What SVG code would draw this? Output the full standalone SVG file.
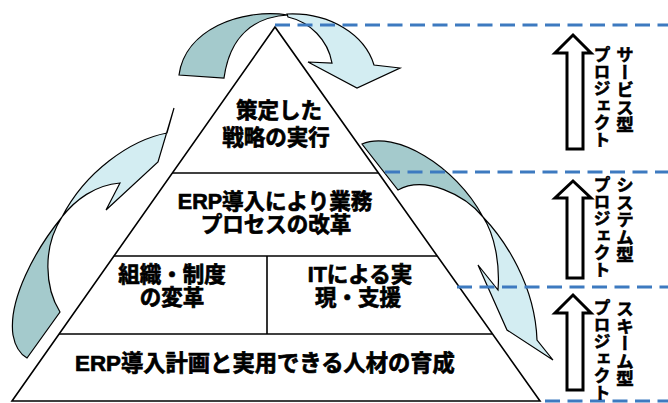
<svg xmlns="http://www.w3.org/2000/svg" width="668" height="403" viewBox="0 0 668 403">
<style>
.dark{fill:#a4cacc;stroke:#000;stroke-width:1.2;stroke-linejoin:miter}
.light{fill:#d3edf2;stroke:#000;stroke-width:1.2;stroke-linejoin:miter}
.tri{fill:#fff;stroke:#000;stroke-width:1.6}
.ln{stroke:#000;stroke-width:1.6;fill:none}
.dash{stroke:#3d7ac0;stroke-width:3.2;stroke-dasharray:15 7.5;fill:none}
.blk{fill:#fff;stroke:#000;stroke-width:3;stroke-linejoin:miter}
.t{font-family:"Liberation Sans","Noto Sans CJK JP",sans-serif;font-weight:bold;font-size:21.5px;fill:#000;stroke:#000;stroke-width:0.7;text-anchor:middle}
.v{font-family:"Noto Sans CJK JP","Liberation Sans",sans-serif;font-weight:bold;font-size:17.5px;fill:#000;stroke:#000;stroke-width:0.6;writing-mode:vertical-rl}
.p{font-size:17px}
</style>
<g id="pyramid">
<polygon class="tri" points="275,27 12,401 540,401"/>
<line class="ln" x1="172" y1="173" x2="378" y2="173"/>
<line class="ln" x1="114" y1="256" x2="437" y2="256"/>
<line class="ln" x1="59" y1="334" x2="492" y2="334"/>
<line class="ln" x1="267" y1="256" x2="267" y2="334"/>
</g>
<g id="node-top"><text class="t" x="279" y="118">策定した</text><text class="t" x="276" y="145">戦略の実行</text></g>
<g id="node-erp"><text class="t" x="275" y="209">ERP導入により業務</text><text class="t" x="276" y="232">プロセスの改革</text></g>
<g id="node-org"><text class="t" x="172" y="282">組織・制度</text><text class="t" x="172" y="305">の変革</text></g>
<g id="node-it"><text class="t" x="360" y="282">ITによる実</text><text class="t" x="358" y="305">現・支援</text></g>
<g id="node-base"><text class="t" x="265" y="371" style="font-size:22.3px">ERP導入計画と実用できる人材の育成</text></g>
<g id="connectors">
<path class="dark" d="M179,75 C185,30 240,8 288,15 C255,17 230,35 224,78 Z"/>
<path class="light" d="M287,14 C330,12 365,35 374,65 L400,68 L357,88 L308,62 L332,63 C328,40 310,22 288,17 Z"/>
<path class="dark" d="M362,144 C395,130 455,165 483,217 C465,195 425,175 398,190 Z"/>
<path class="light" d="M483,217 C505,240 535,285 537,340 L553,360 L507,330 L478,265 L498,290 C500,265 495,235 483,217 Z"/>
<path class="dark" d="M62,217 C35,250 8,300 13,335 C15,346 20,354 27,358 L60,312 C45,288 42,248 62,217 Z"/>
<path class="light" d="M174,108 L167,133 C130,140 85,172 62,217 C75,200 95,185 120,183 L106,210 L158,162 Z"/>
</g>
<g id="dashes">
<line class="dash" x1="275" y1="25" x2="668" y2="25"/>
<line class="dash" x1="385" y1="172" x2="668" y2="172"/>
<line class="dash" x1="457" y1="287" x2="668" y2="287"/>
<line class="dash" x1="545" y1="401" x2="668" y2="401"/>
</g>
<g id="arrow-service">
<polygon class="blk" points="573,35 591,53 583,53 583,149 567,149 567,53 555,53"/>
<text class="v" x="625" y="46">サービス型</text>
<text class="v p" x="602" y="46">プロジェクト</text>
</g>
<g id="arrow-system">
<polygon class="blk" points="573,181 591,198 583,198 583,278 567,278 567,198 555,198"/>
<text class="v" x="625" y="176">システム型</text>
<text class="v p" x="602" y="176">プロジェクト</text>
</g>
<g id="arrow-scheme">
<polygon class="blk" points="573,295 591,313 583,313 583,390 567,390 567,313 555,313"/>
<text class="v" x="625" y="300">スキーム型</text>
<text class="v p" x="602" y="299">プロジェクト</text>
</g>
</svg>
